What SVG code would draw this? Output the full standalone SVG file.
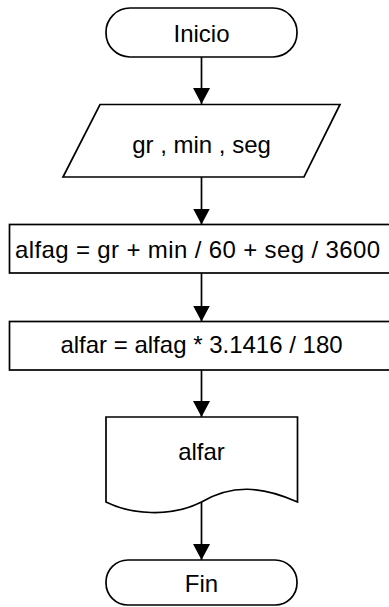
<svg xmlns="http://www.w3.org/2000/svg" width="389" height="607" viewBox="0 0 389 607">
<style>
.s{fill:#fff;stroke:#000;stroke-width:1.7}
.t{font-family:"Liberation Sans",Arial,sans-serif;font-size:24px;fill:#000;text-anchor:middle}
.c{stroke:#000;stroke-width:1.7;fill:none;marker-end:url(#ah)}
</style>
<defs>
<marker id="ah" markerUnits="userSpaceOnUse" viewBox="0 0 16 17" refX="16" refY="8.5" markerWidth="16" markerHeight="17" orient="auto">
<path d="M0,0 L16,8.5 L0,17 Z" fill="#000"/>
</marker>
</defs>
<rect width="389" height="607" fill="#fff"/>
<g id="connectors">
<line class="c" x1="201.5" y1="57" x2="201.5" y2="104"/>
<line class="c" x1="201.5" y1="177" x2="201.5" y2="224.5"/>
<line class="c" x1="201.5" y1="273" x2="201.5" y2="321.5"/>
<line class="c" x1="201.5" y1="370" x2="201.5" y2="417"/>
<line class="c" x1="201.5" y1="502" x2="201.5" y2="560"/>
</g>
<g id="inicio">
<rect class="s" x="106" y="8" width="191" height="49" rx="24" ry="24"/>
<text class="t" x="201.5" y="41.5">Inicio</text>
</g>
<g id="entrada">
<polygon class="s" points="100,104.5 340,104.5 304,177 63,177"/>
<text class="t" x="201.5" y="152.5">gr , min , seg</text>
</g>
<g id="alfag">
<rect class="s" x="9.5" y="224.5" width="385" height="48.5"/>
<text class="t" x="197.5" y="257.5" textLength="365" lengthAdjust="spacing">alfag = gr + min / 60 + seg / 3600</text>
</g>
<g id="alfar">
<rect class="s" x="9.5" y="321.5" width="385" height="48.5"/>
<text class="t" x="201.5" y="353">alfar = alfag * 3.1416 / 180</text>
</g>
<g id="salida">
<path class="s" d="M106,417 H297.5 V502 C262,486 232,484 201.5,502 C170,518 130,514 106,502 Z"/>
<text class="t" x="201.5" y="460">alfar</text>
</g>
<g id="fin">
<rect class="s" x="106" y="560" width="191" height="45" rx="22" ry="22"/>
<text class="t" x="201.5" y="591.5">Fin</text>
</g>
</svg>
